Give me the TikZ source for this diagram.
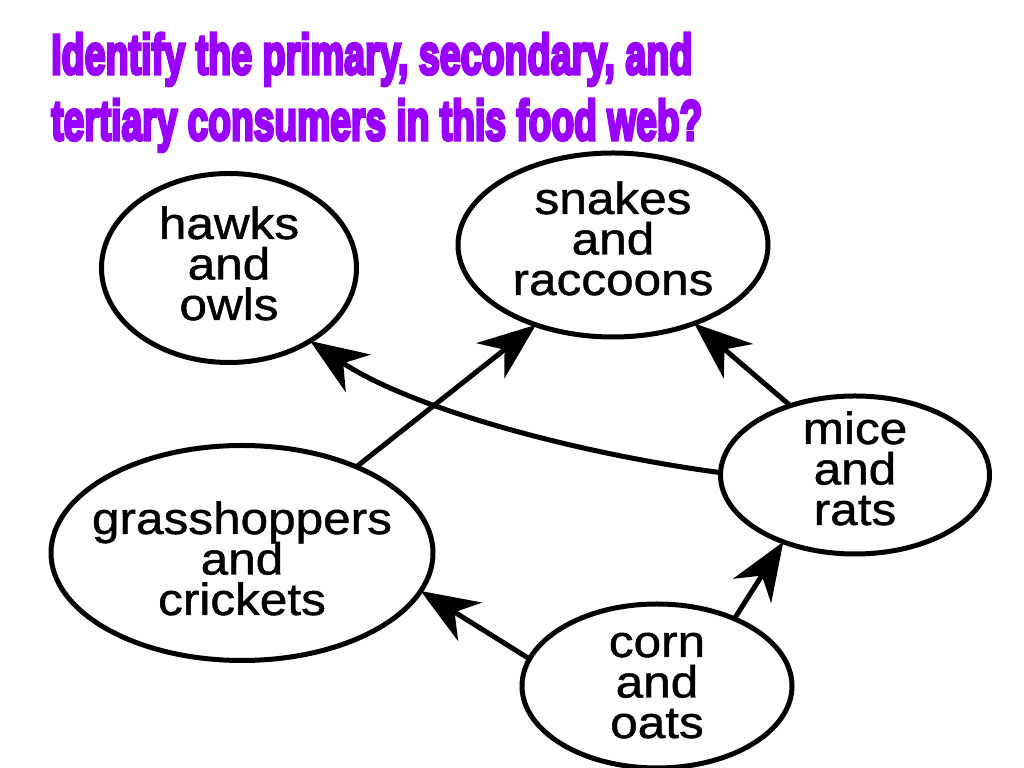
\documentclass[tikz,border=0pt]{standalone}
\usepackage{fontspec}
\usepackage{graphicx}
\usetikzlibrary{arrows.meta,shapes.geometric}
\newfontfamily\lblfont{Liberation Sans}[FakeStretch=1.1,FakeBold=1.0]
\newfontfamily\ttlfont{Liberation Sans Bold}[FakeBold=6]
\definecolor{ttlpurple}{RGB}{153,0,255}
\newcommand{\stk}[2]{\makebox[0pt][c]{\raisebox{#1}[0pt][0pt]{\vbox{\baselineskip=40.5bp\lineskiplimit=-1000bp\halign{\hfil##\hfil\cr#2\crcr}}}}}
\tikzset{
  web/.style={draw, ellipse, line width=5bp, inner sep=0pt, outer sep=0pt,
    font=\lblfont\fontsize{45bp}{40.5bp}\selectfont},
  feed/.style={line width=5bp, -{Stealth[length=58bp,width=45bp,inset=18bp]}},
  ttl/.style={anchor=base west, inner sep=0pt, text=ttlpurple, font=\ttlfont}
}
\begin{document}
\begin{tikzpicture}[x=1bp,y=1bp]
\fill[white] (0,0) rectangle (1024,768);
\useasboundingbox (0,0) rectangle (1024,768);
% title
\node[ttl] (t1) at (51,694) {\resizebox{641bp}{41bp}{Identify the primary, secondary, and}};
\node[ttl] (t2) at (51,628) {\resizebox{651bp}{41bp}{tertiary consumers in this food web?}};
% organisms
\node[web, minimum width=255bp, minimum height=189bp] (hawks) at (229,500) {\stk{-52bp}{hawks\cr and\cr owls}};
\node[web, minimum width=310bp, minimum height=184bp] (snakes) at (613,523) {\stk{-50bp}{snakes\cr and\cr raccoons}};
\node[web, minimum width=269bp, minimum height=158bp] (mice) at (855,293) {\stk{-50bp}{mice\cr and\cr rats}};
\node[web, minimum width=382bp, minimum height=215bp] (grass) at (242,215) {\stk{-62bp}{grasshoppers\cr and\cr crickets}};
\node[web, minimum width=270bp, minimum height=164bp] (corn) at (657,82) {\stk{-52bp}{corn\cr and\cr oats}};
% feeding relations
\draw[feed] (grass.37) -- (snakes.226);
\draw[feed] (mice.133) -- (snakes.-44);
\draw[feed] (mice.179) .. controls (574,315) and (410,360) .. (hawks.-42);
\draw[feed] (corn.168) -- (grass.-12);
\draw[feed] (corn.41) -- (mice.223);
\end{tikzpicture}
\end{document}
